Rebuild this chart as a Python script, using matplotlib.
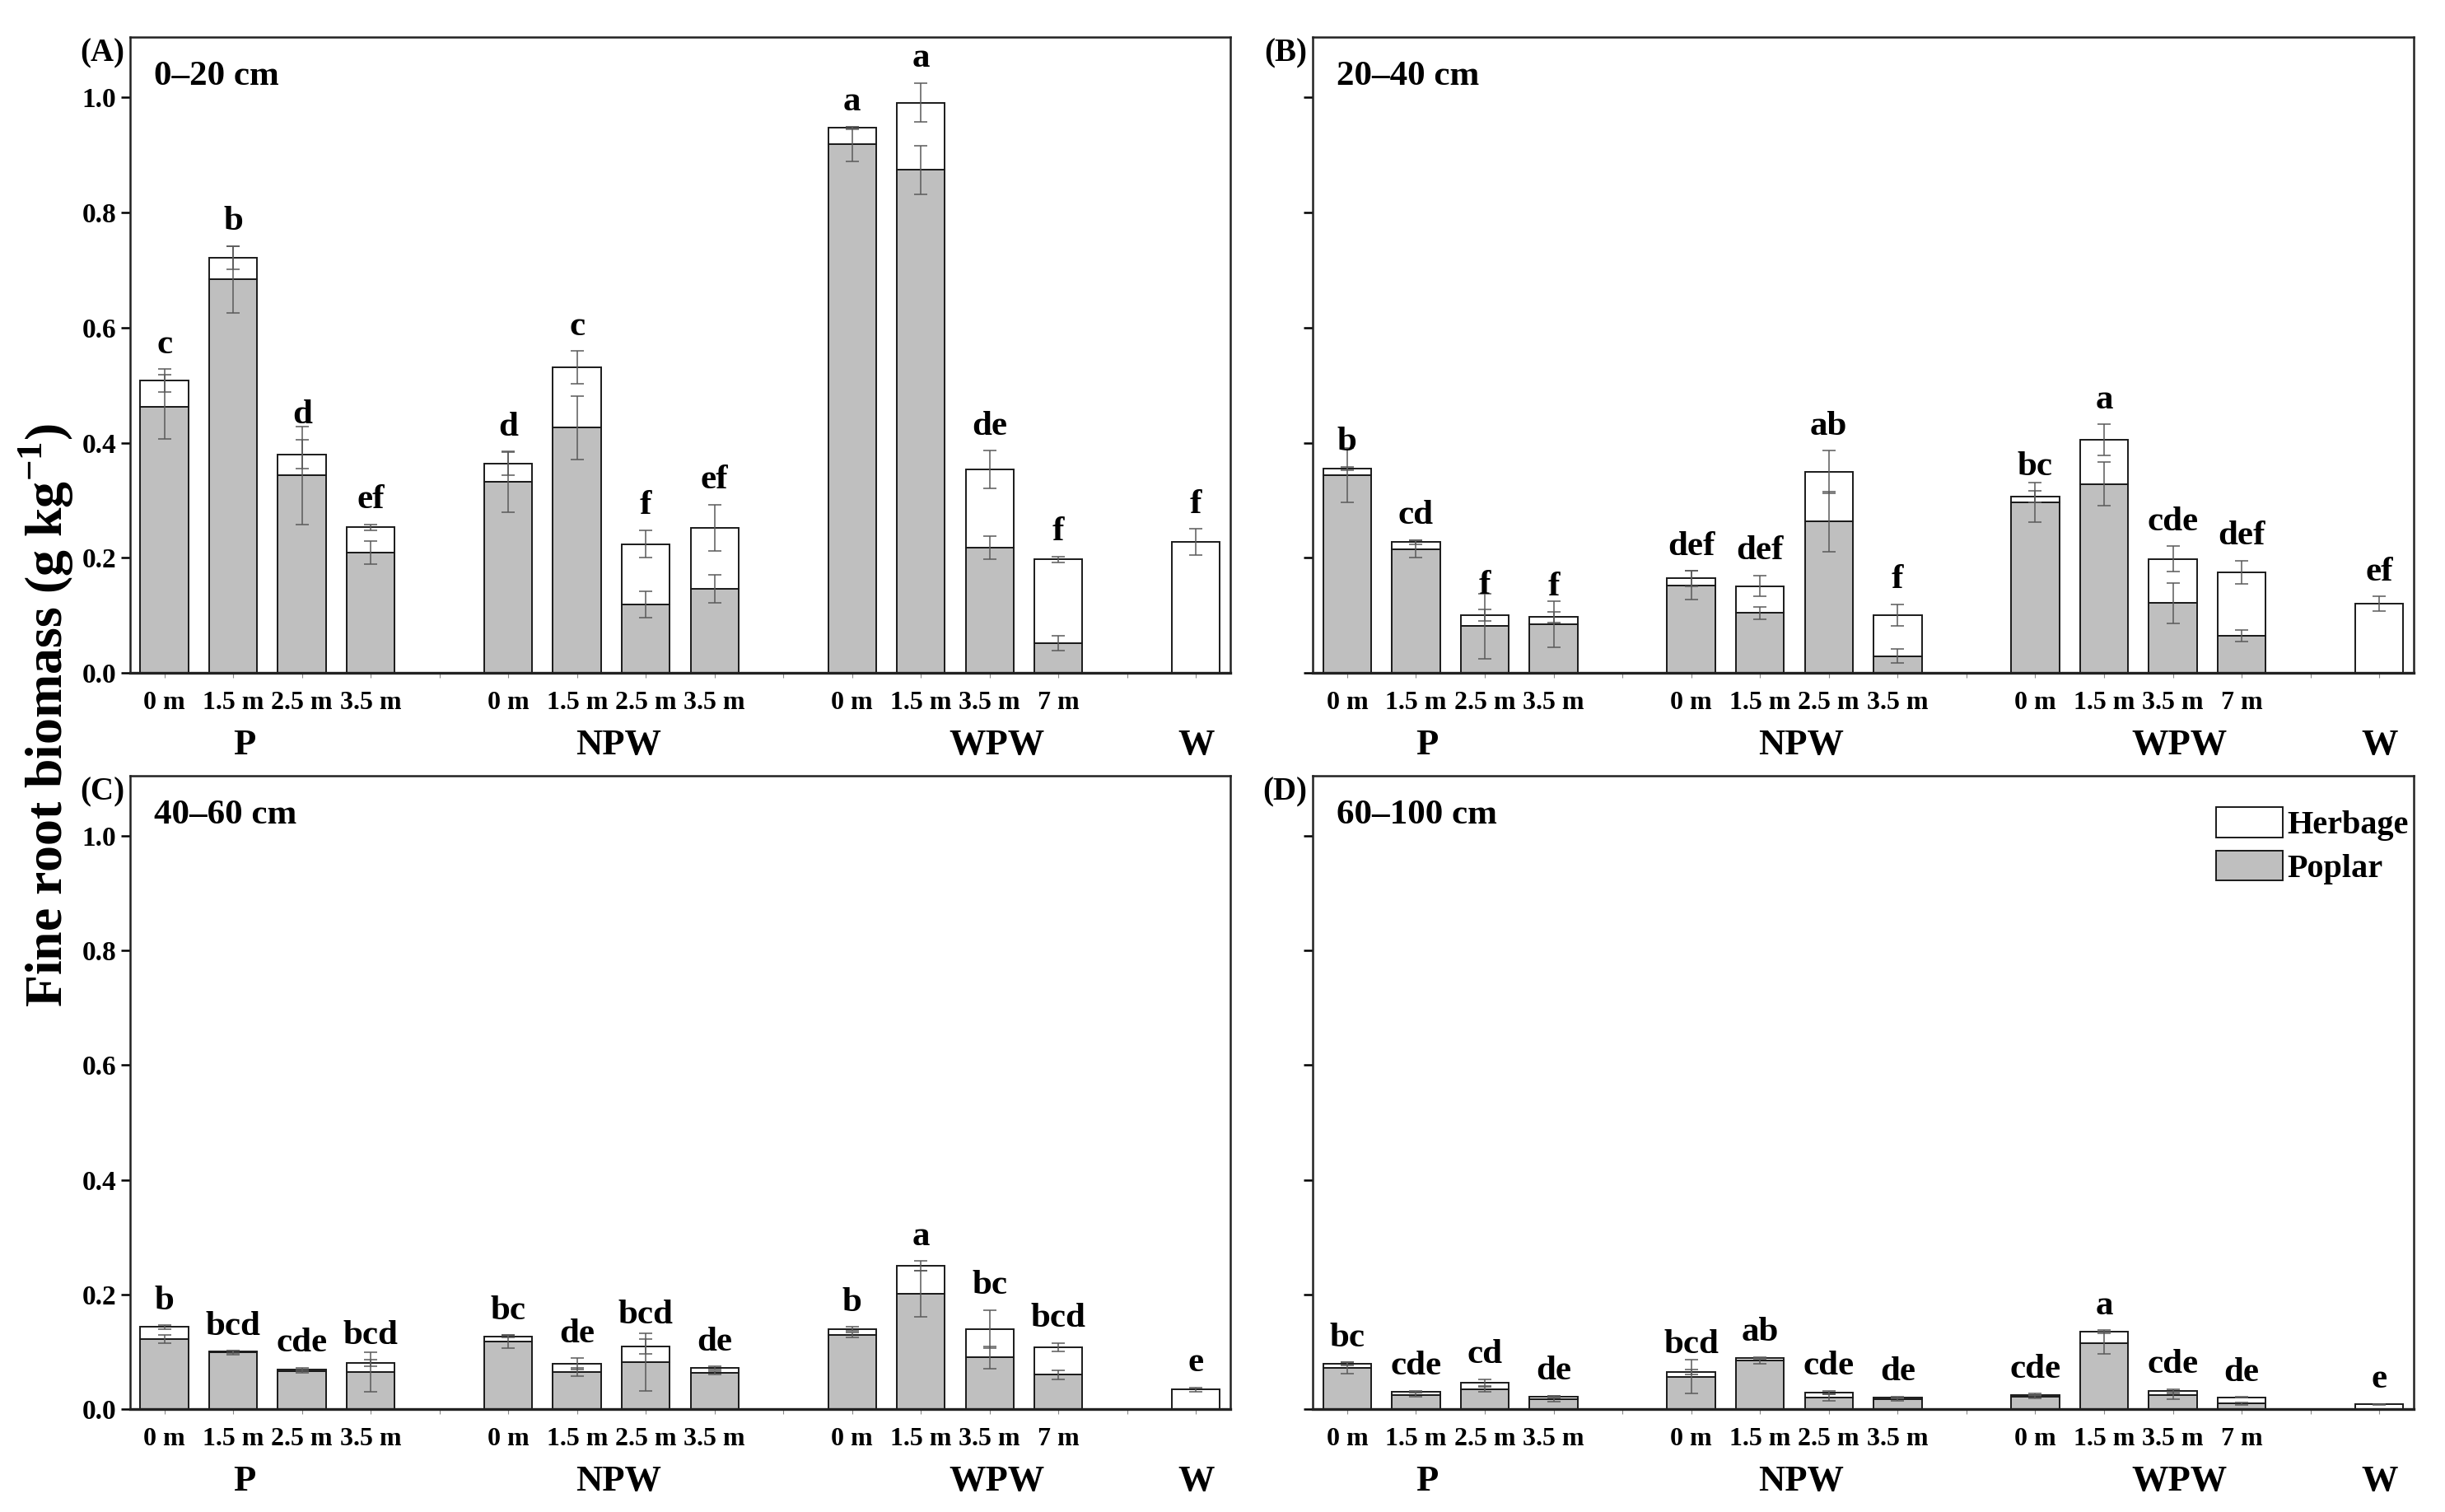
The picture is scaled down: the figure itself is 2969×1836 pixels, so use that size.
import numpy as np
import matplotlib
matplotlib.use('Agg')
import matplotlib.pyplot as plt
from matplotlib.patches import Patch
from matplotlib.transforms import blended_transform_factory

plt.rcParams['font.family'] = 'Liberation Serif'
plt.rcParams['font.weight'] = 'bold'
plt.rcParams['mathtext.fontset'] = 'custom'
plt.rcParams['mathtext.rm'] = 'Liberation Serif:bold'
plt.rcParams['mathtext.bf'] = 'Liberation Serif:bold'

# groups and distances
groups = ['P', 'NPW', 'WPW', 'W']
group_sizes = [4, 4, 4, 1]
group_label_x = [2.16, 7.6, 13.1, 16.0]
tick_labels = ['0 m', '1.5 m', '2.5 m', '3.5 m',
               '0 m', '1.5 m', '2.5 m', '3.5 m',
               '0 m', '1.5 m', '3.5 m', '7 m', '']

panel_ids = ['(A)', '(B)', '(C)', '(D)']
depths = ['0\u201320 cm', '20\u201340 cm', '40\u201360 cm', '60\u2013100 cm']

# (A) 0-20 cm
poplar_A = [0.462, 0.684, 0.343, 0.209, 0.332, 0.426, 0.119, 0.146, 0.919, 0.874, 0.217, 0.052, 0.0]
herb_A = [0.046, 0.038, 0.037, 0.044, 0.032, 0.105, 0.105, 0.106, 0.028, 0.117, 0.136, 0.145, 0.227]
poplar_err_A = [0.056, 0.058, 0.085, 0.020, 0.053, 0.055, 0.023, 0.024, 0.030, 0.042, 0.020, 0.013, 0.0]
herb_err_A = [0.020, 0.020, 0.025, 0.005, 0.020, 0.028, 0.024, 0.040, 0.002, 0.034, 0.033, 0.005, 0.023]
letters_A = ['c', 'b', 'd', 'ef', 'd', 'c', 'f', 'ef', 'a', 'a', 'de', 'f', 'f']

# (B) 20-40 cm
poplar_B = [0.344, 0.215, 0.081, 0.084, 0.152, 0.104, 0.263, 0.029, 0.296, 0.328, 0.121, 0.065, 0.0]
herb_B = [0.011, 0.012, 0.019, 0.013, 0.012, 0.047, 0.086, 0.071, 0.010, 0.077, 0.077, 0.110, 0.120]
poplar_err_B = [0.047, 0.015, 0.057, 0.040, 0.025, 0.011, 0.052, 0.012, 0.034, 0.038, 0.035, 0.010, 0.0]
herb_err_B = [0.003, 0.004, 0.010, 0.009, 0.013, 0.018, 0.037, 0.019, 0.010, 0.027, 0.022, 0.020, 0.013]
letters_B = ['b', 'cd', 'f', 'f', 'def', 'def', 'ab', 'f', 'bc', 'a', 'cde', 'def', 'ef']

# (C) 40-60 cm
poplar_C = [0.122, 0.0985, 0.0665, 0.0645, 0.118, 0.0645, 0.082, 0.063, 0.1295, 0.201, 0.090, 0.0596, 0.0]
herb_C = [0.021, 0.0015, 0.0025, 0.0155, 0.009, 0.0145, 0.027, 0.0085, 0.0105, 0.049, 0.050, 0.0484, 0.034]
poplar_err_C = [0.007, 0.004, 0.003, 0.034, 0.012, 0.007, 0.050, 0.003, 0.004, 0.040, 0.019, 0.008, 0.0]
herb_err_C = [0.003, 0.002, 0.003, 0.006, 0.002, 0.010, 0.013, 0.003, 0.003, 0.008, 0.033, 0.007, 0.004]
letters_C = ['b', 'bcd', 'cde', 'bcd', 'bc', 'de', 'bcd', 'de', 'b', 'a', 'bc', 'bcd', 'e']

# (D) 60-100 cm
poplar_D = [0.0714, 0.0248, 0.0343, 0.0176, 0.0567, 0.0843, 0.0205, 0.0167, 0.021, 0.1156, 0.0238, 0.0095, 0.0]
herb_D = [0.0072, 0.0052, 0.0117, 0.0038, 0.0083, 0.0047, 0.0081, 0.0033, 0.004, 0.0191, 0.0072, 0.011, 0.008]
poplar_err_D = [0.010, 0.004, 0.004, 0.005, 0.029, 0.005, 0.006, 0.002, 0.003, 0.020, 0.006, 0.002, 0.0]
herb_err_D = [0.003, 0.002, 0.006, 0.002, 0.004, 0.002, 0.003, 0.002, 0.002, 0.003, 0.004, 0.001, 0.001]
letters_D = ['bc', 'cde', 'cd', 'de', 'bcd', 'ab', 'cde', 'de', 'cde', 'a', 'cde', 'de', 'e']

panels = [(poplar_A, herb_A, poplar_err_A, herb_err_A, letters_A),
          (poplar_B, herb_B, poplar_err_B, herb_err_B, letters_B),
          (poplar_C, herb_C, poplar_err_C, herb_err_C, letters_C),
          (poplar_D, herb_D, poplar_err_D, herb_err_D, letters_D)]

# bar positions: one empty slot between groups
xpos = []
start = 1
for n in group_sizes:
    xpos += list(range(start, start + n))
    start += n + 1
xpos = np.array(xpos, dtype=float)
sep_ticks = [5, 10, 15]

gray = '#bfbfbf'
edge = '#1a1a1a'
errc = '#5a5a5a'

fig = plt.figure(figsize=(29.69, 18.36), dpi=100)
rects = [[0.0532, 0.555, 0.450, 0.4205],
         [0.5369, 0.555, 0.4503, 0.4205],
         [0.0532, 0.0681, 0.450, 0.4188],
         [0.5369, 0.0681, 0.4503, 0.4188]]

for k, (pop, herb, perr, herr, lets) in enumerate(panels):
    ax = fig.add_axes(rects[k])
    pop = np.array(pop)
    herb = np.array(herb)
    perr = np.array(perr)
    herr = np.array(herr)
    tot = pop + herb
    has_pop = pop > 0

    ax.bar(xpos[has_pop], pop[has_pop], width=0.7, color=gray, edgecolor=edge, linewidth=1.4, zorder=2)
    ax.bar(xpos, herb, width=0.7, bottom=pop, color='white', edgecolor=edge, linewidth=1.4, zorder=2)
    ax.errorbar(xpos[has_pop], pop[has_pop], yerr=perr[has_pop], fmt='none', ecolor=errc,
                elinewidth=1.1, capsize=5.5, capthick=1.1, zorder=3)
    ax.errorbar(xpos, tot, yerr=herr, fmt='none', ecolor=errc,
                elinewidth=1.1, capsize=5.5, capthick=1.1, zorder=3)

    for x, t, e, s in zip(xpos, tot, herr, lets):
        ax.text(x, t + e + 0.028, s, ha='center', va='baseline', fontsize=31, fontweight='bold')

    ax.set_xlim(0.5, 16.5)
    ax.set_ylim(0, 1.105)
    ax.set_yticks(np.arange(0, 1.01, 0.2))
    if k % 2 == 0:
        ax.set_yticklabels(['%.1f' % v for v in np.arange(0, 1.01, 0.2)])
    else:
        ax.set_yticklabels([])
    ax.tick_params(axis='y', direction='out', length=8, width=1.8, labelsize=24, pad=4)

    ax.set_xticks(xpos)
    ax.set_xticklabels(tick_labels)
    ax.set_xticks(sep_ticks, minor=True)
    ax.tick_params(axis='x', which='both', direction='out', length=4, width=0.8,
                   color='#888888', labelsize=23, pad=12)

    for sp in ax.spines.values():
        sp.set_linewidth(1.8)
        sp.set_color('#222222')
    ax.spines['bottom'].set_linewidth(2.4)

    trans = blended_transform_factory(ax.transData, ax.transAxes)
    for gx, g in zip(group_label_x, groups):
        ax.text(gx, -0.114, g, transform=trans, ha='center', va='center', fontsize=32, fontweight='bold')

    ax.text(-0.005, 0.974, panel_ids[k], transform=ax.transAxes, ha='right', va='center',
            fontsize=28, fontweight='bold')
    ax.text(0.022, 0.938, depths[k], transform=ax.transAxes, ha='left', va='center',
            fontsize=31, fontweight='bold')

    if k == 3:
        handles = [Patch(facecolor='white', edgecolor=edge, linewidth=1.4, label='Herbage'),
                   Patch(facecolor=gray, edgecolor=edge, linewidth=1.4, label='Poplar')]
        ax.legend(handles=handles, loc='upper right', bbox_to_anchor=(0.9955, 0.95), frameon=False,
                  fontsize=29, handlelength=2.0, handleheight=1.0, handletextpad=0.15,
                  labelspacing=0.3, borderpad=0, borderaxespad=0)

fig.text(0.019, 0.527, 'Fine root biomass (g kg$^{-1}$)', rotation=90, ha='center', va='center',
         fontsize=46, fontweight='bold')

fig.savefig('out.png', dpi=100)
